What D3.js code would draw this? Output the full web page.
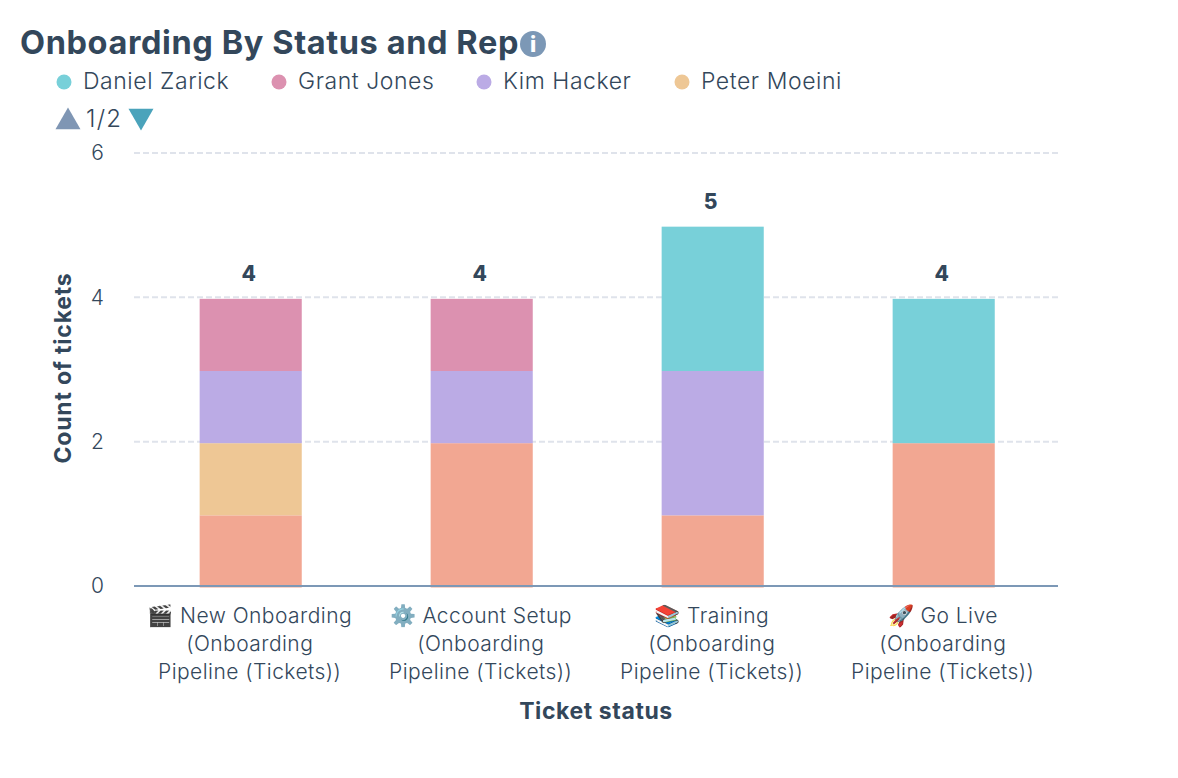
<!DOCTYPE html>
<html>
<head>
<meta charset="utf-8">
<script src="https://cdn.jsdelivr.net/npm/d3@7"></script>
<style>
  html, body { margin: 0; background: #fff; }
  text { font-family: Inter, "Open Sans", sans-serif; fill: #33475b; }
</style>
</head>
<body>
<div id="chart"></div>
<script>
var categories = ["New Onboarding", "Account Setup", "Training", "Go Live"];
var categoryIcons = ["🎬", "⚙️", "📚", "🚀"];
var categorySuffix = ["(Onboarding", "Pipeline (Tickets))"];

// legend page 2 is not visible, so the salmon series name is a guess
var seriesNames = ["Daniel Zarick", "Grant Jones", "Kim Hacker", "Peter Moeini", "Other"];
var seriesColors = ["#78d0d9", "#dc91b0", "#bbabe5", "#eec795", "#f2a792"];

var danielZarick = [0, 0, 2, 2];
var grantJones = [1, 1, 0, 0];
var kimHacker = [1, 1, 2, 0];
var peterMoeini = [1, 0, 0, 0];
var other = [1, 2, 1, 2];

var yTicks = [0, 2, 4, 6];
var legendX = [64, 279, 484, 682];

var width = 1178;
var height = 778;
var textColor = "#33475b";

var svg = d3.select("#chart").append("svg")
    .attr("width", width)
    .attr("height", height)
    .style("display", "block");

var x = d3.scaleBand()
    .domain(categories)
    .range([135.2, 1059.2])
    .paddingInner(0.558)
    .paddingOuter(0.279);

var y = d3.scaleLinear()
    .domain([0, 6])
    .range([586, 153]);

var rows = categories.map(function(c, i) {
    return {
        category: c,
        "Daniel Zarick": danielZarick[i],
        "Grant Jones": grantJones[i],
        "Kim Hacker": kimHacker[i],
        "Peter Moeini": peterMoeini[i],
        "Other": other[i]
    };
});

// first series sits on top of the stack, last one on the axis
var stack = d3.stack().keys(seriesNames.slice().reverse());
var stacked = stack(rows);

var color = d3.scaleOrdinal().domain(seriesNames).range(seriesColors);

// gridlines
svg.append("g")
    .selectAll("line")
    .data(yTicks.filter(function(d) { return d > 0; }))
    .join("line")
    .attr("x1", 134)
    .attr("x2", 1058)
    .attr("y1", function(d) { return y(d); })
    .attr("y2", function(d) { return y(d); })
    .attr("stroke", "#dfe3eb")
    .attr("stroke-width", 2)
    .attr("stroke-dasharray", "6,3");

// y axis, labels only
var yAxis = svg.append("g")
    .attr("transform", "translate(104,0)")
    .call(d3.axisLeft(y).tickValues(yTicks).tickSize(0).tickPadding(0).tickFormat(d3.format("d")));
yAxis.select(".domain").remove();
yAxis.selectAll("text")
    .attr("font-size", 21)
    .style("font-family", "Inter, sans-serif")
    .style("font-weight", 300)
    .style("fill", textColor);

// stacked bars
svg.append("g")
    .selectAll("g")
    .data(stacked)
    .join("g")
    .attr("fill", function(s) { return color(s.key); })
    .selectAll("rect")
    .data(function(s) { return s; })
    .join("rect")
    .attr("x", function(d) { return x(d.data.category); })
    .attr("width", x.bandwidth())
    .attr("y", function(d) { return y(d[1]) + 1.5; })
    .attr("height", function(d) {
        var h = y(d[0]) - y(d[1]);
        return h > 0 ? h : 0;
    });

// x axis
var xAxis = svg.append("g")
    .attr("transform", "translate(0,586)")
    .call(d3.axisBottom(x).tickSize(0).tickFormat(""));
xAxis.select(".domain")
    .attr("d", "M134,0H1058")
    .attr("stroke", "#7c98b6")
    .attr("stroke-width", 2);

var catLabels = svg.append("g")
    .selectAll("text")
    .data(categories)
    .join("text")
    .attr("text-anchor", "middle")
    .attr("font-size", 21)
    .attr("letter-spacing", 0.45)
    .attr("font-weight", 300)
    .attr("y", 623);

catLabels.each(function(c, i) {
    var t = d3.select(this);
    var cx = x(c) + x.bandwidth() / 2 - 1;
    t.append("tspan").attr("x", cx).text(categoryIcons[i] + " " + c);
    categorySuffix.forEach(function(line) {
        t.append("tspan").attr("x", cx).attr("dy", 28).text(line);
    });
});

// totals above each bar
svg.append("g")
    .selectAll("text")
    .data(rows)
    .join("text")
    .attr("x", function(d) { return x(d.category) + x.bandwidth() / 2 - 2; })
    .attr("y", function(d) { return y(d3.sum(seriesNames, function(k) { return d[k]; })) - 16; })
    .attr("text-anchor", "middle")
    .attr("font-size", 21)
    .attr("font-weight", 800)
    .text(function(d) { return d3.sum(seriesNames, function(k) { return d[k]; }); });

// axis titles
svg.append("text")
    .attr("x", 596)
    .attr("y", 719)
    .attr("text-anchor", "middle")
    .attr("font-size", 23)
    .attr("letter-spacing", 0.6)
    .attr("font-weight", 700)
    .text("Ticket status");

svg.append("text")
    .attr("transform", "translate(71,368) rotate(-90)")
    .attr("text-anchor", "middle")
    .attr("font-size", 23)
    .attr("letter-spacing", 0.8)
    .attr("font-weight", 700)
    .text("Count of tickets");

// title and info icon
svg.append("text")
    .attr("x", 20)
    .attr("y", 54)
    .attr("font-size", 32.5)
    .attr("letter-spacing", 0.6)
    .attr("font-weight", 700)
    .text("Onboarding By Status and Rep");

svg.append("circle")
    .attr("cx", 533)
    .attr("cy", 44)
    .attr("r", 13)
    .attr("fill", "#7c98b6");
svg.append("text")
    .attr("x", 533)
    .attr("y", 52)
    .attr("text-anchor", "middle")
    .attr("font-size", 22)
    .attr("font-weight", 800)
    .style("fill", "#fff")
    .text("i");

// legend, first page only
var legend = svg.append("g")
    .selectAll("g")
    .data(seriesNames.slice(0, 4))
    .join("g")
    .attr("transform", function(d, i) { return "translate(" + legendX[i] + ",82)"; });

legend.append("circle")
    .attr("r", 7.5)
    .attr("fill", function(d) { return color(d); });

legend.append("text")
    .attr("x", 19)
    .attr("y", 7)
    .attr("font-size", 23)
    .attr("letter-spacing", 0.55)
    .attr("font-weight", 300)
    .text(function(d) { return d; });

// legend pager
var triangle = d3.symbol().type(d3.symbolTriangle).size(270);
svg.append("path")
    .attr("d", triangle)
    .attr("transform", "translate(68,122)")
    .attr("fill", "#7f96b4");
svg.append("path")
    .attr("d", triangle)
    .attr("transform", "translate(141,116) rotate(180)")
    .attr("fill", "#4aa3bb");
svg.append("text")
    .attr("x", 86)
    .attr("y", 127)
    .attr("font-size", 24)
    .attr("letter-spacing", 1.2)
    .attr("font-weight", 300)
    .text("1/2");
</script>
</body>
</html>
